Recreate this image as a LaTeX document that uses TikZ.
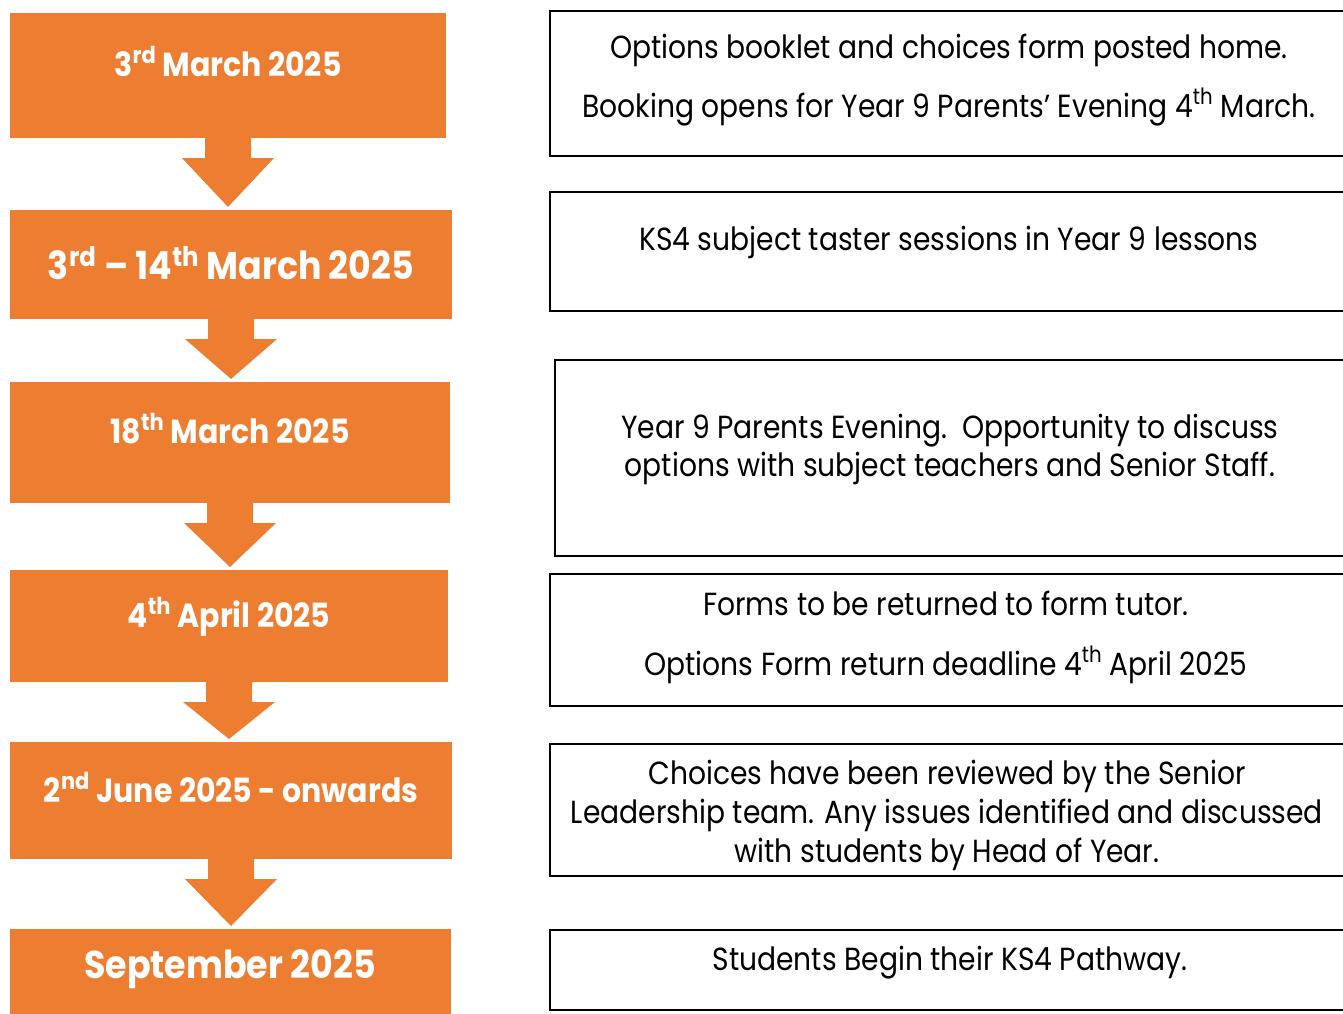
\documentclass[tikz,border=0pt]{standalone}
\usepackage{fontspec}
\setmainfont{Poppins}[FakeStretch=0.88]
\newfontfamily\datefont{Poppins}[FakeStretch=0.9]
\usepackage{tikz}
\usetikzlibrary{calc}
\usetikzlibrary{shapes}

\definecolor{stepOrange}{HTML}{ED7D31}
\tikzset{
  datebox/.style={rectangle, fill=stepOrange, inner sep=0pt, outer sep=0pt},
  datetext/.style={anchor=base, text=white, inner sep=0pt, font=\datefont\bfseries\fontsize{25}{30}\selectfont},
  bigdate/.style={datetext, font=\datefont\bfseries\fontsize{29}{34}\selectfont},
  infobox/.style={rectangle, draw=black, line width=1.5pt, inner sep=0pt},
  infotext/.style={anchor=base, inner sep=0pt, font=\fontsize{24}{29}\selectfont}
}

\begin{document}
\begin{tikzpicture}[x=0.75pt,y=-0.75pt]
\useasboundingbox (0,0) rectangle (1343,1014);

% dates on the left
\node (d1) at (228,75.5) [datebox,minimum width=327pt,minimum height=93.75pt] {};
\node (d2) at (231,264.5) [datebox,minimum width=331.5pt,minimum height=81.75pt] {};
\node (d3) at (230,442.5) [datebox,minimum width=330pt,minimum height=90.75pt] {};
\node (d4) at (229,626) [datebox,minimum width=328.5pt,minimum height=84pt] {};
\node (d5) at (231,800.5) [datebox,minimum width=331.5pt,minimum height=87.75pt] {};
\node (d6) at (230.5,976.5) [datebox,minimum width=330.75pt,minimum height=71.25pt] {};

\node (d1t) at (228,76) [datetext] {3\textsuperscript{rd} March 2025};
\node (d2t) at (231,279) [bigdate] {3\textsuperscript{rd} – 14\textsuperscript{th} March 2025};
\node (d3t) at (230,443) [datetext] {18\textsuperscript{th} March 2025};
\node (d4t) at (229,627) [datetext] {4\textsuperscript{th} April 2025};
\node (d5t) at (231,802) [datetext] {2\textsuperscript{nd} June 2025 - onwards};
\node (d6t) at (230,978) [bigdate] {September 2025};

% block arrows between the dates
\foreach \a/\b in {d1/d2,d2/d3,d3/d4,d4/d5,d5/d6}
  \fill[stepOrange] ($(\a.south)+(-23,0)$) -- ($(\a.south)+(23,0)$) -- ($(\a.south)+(23,20)$)
    -- ($(\a.south)+(46,20)$) -- ($(\a.south |- \b.north)+(0,-3)$) -- ($(\a.south)+(-46,20)$)
    -- ($(\a.south)+(-23,20)$) -- cycle;

% what happens, on the right
\node (i1) at (949,83.5) [infobox,minimum width=598.5pt,minimum height=108.75pt] {};
\node (i2) at (949,251.5) [infobox,minimum width=598.5pt,minimum height=89.25pt] {};
\node (i3) at (951.5,458) [infobox,minimum width=594.75pt,minimum height=147pt] {};
\node (i4) at (949,640) [infobox,minimum width=598.5pt,minimum height=99pt] {};
\node (i5) at (949,810) [infobox,minimum width=598.5pt,minimum height=99pt] {};
\node (i6) at (949,970) [infobox,minimum width=598.5pt,minimum height=60pt] {};

\node (i1a) at (949,58) [infotext] {Options booklet and choices form posted home.};
\node (i1b) at (949,117) [infotext] {Booking opens for Year 9 Parents’ Evening 4\textsuperscript{th} March.};
\node (i2a) at (949,250) [infotext] {KS4 subject taster sessions in Year 9 lessons};
\node (i3a) at (950,438) [infotext] {Year 9 Parents Evening.\ \ Opportunity to discuss};
\node (i3b) at (950,476) [infotext] {options with subject teachers and Senior Staff.};
\node (i4a) at (946,615) [infotext] {Forms to be returned to form tutor.};
\node (i4b) at (946,675) [infotext] {Options Form return deadline 4\textsuperscript{th} April 2025};
\node (i5a) at (947,784) [infotext] {Choices have been reviewed by the Senior};
\node (i5b) at (947,823) [infotext] {Leadership team. Any issues identified and discussed};
\node (i5c) at (947,862) [infotext] {with students by Head of Year.};
\node (i6a) at (950,970) [infotext] {Students Begin their KS4 Pathway.};
\end{tikzpicture}
\end{document}
